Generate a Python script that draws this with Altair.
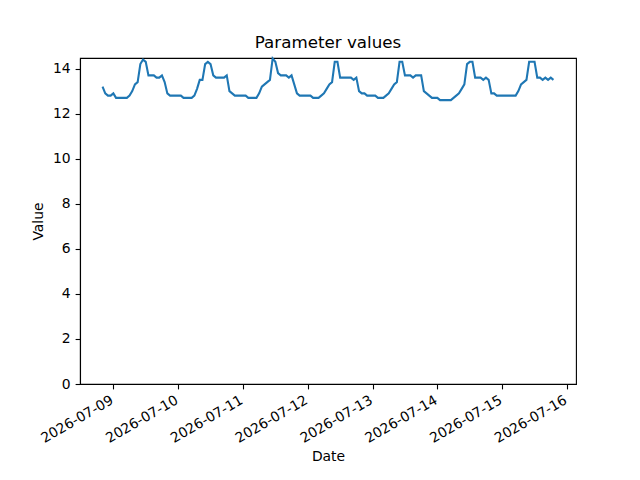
import altair as alt
import pandas as pd

# hourly readings, starting 2026-07-08 20:00
start = "2026-07-08 20:00"
day0 = [13.2, 12.9, 12.8, 12.8]  # 07-08 20:00-23:00
d09 = [12.9, 12.7, 12.7, 12.7, 12.7, 12.7, 12.8, 13.0, 13.3, 13.4, 14.2, 14.4,
       14.3, 13.7, 13.7, 13.7, 13.6, 13.6, 13.7, 13.4, 12.9, 12.8, 12.8, 12.8]
d10 = [12.8, 12.8, 12.7, 12.7, 12.7, 12.7, 12.8, 13.1, 13.5, 13.5, 14.2, 14.3,
       14.2, 13.7, 13.6, 13.6, 13.6, 13.6, 13.7, 13.0, 12.9, 12.8, 12.8, 12.8]
d11 = [12.8, 12.8, 12.7, 12.7, 12.7, 12.7, 12.9, 13.2, 13.3, 13.4, 13.5, 14.45,
       14.3, 13.8, 13.7, 13.7, 13.7, 13.6, 13.7, 13.3, 12.9, 12.8, 12.8, 12.8]
d12 = [12.8, 12.8, 12.7, 12.7, 12.7, 12.8, 12.9, 13.1, 13.3, 13.4, 14.3, 14.3,
       13.6, 13.6, 13.6, 13.6, 13.6, 13.5, 13.6, 13.0, 12.9, 12.9, 12.8, 12.8]
d13 = [12.8, 12.8, 12.7, 12.7, 12.7, 12.8, 12.9, 13.1, 13.3, 13.4, 14.3, 14.3,
       13.7, 13.7, 13.7, 13.6, 13.7, 13.7, 13.7, 13.0, 12.9, 12.8, 12.7, 12.7]
d14 = [12.7, 12.6, 12.6, 12.6, 12.6, 12.6, 12.7, 12.8, 12.9, 13.1, 13.3, 14.2,
       14.3, 14.3, 13.6, 13.6, 13.6, 13.5, 13.6, 13.5, 12.9, 12.9, 12.8, 12.8]
d15 = [12.8, 12.8, 12.8, 12.8, 12.8, 12.8, 13.0, 13.3, 13.4, 13.5, 14.3, 14.3,
       14.3, 13.6, 13.6, 13.5, 13.6, 13.5, 13.6, 13.5]

values = day0 + d09 + d10 + d11 + d12 + d13 + d14 + d15
times = pd.date_range(start, periods=len(values), freq="h")
df = pd.DataFrame({"Date": times.strftime("%Y-%m-%dT%H:%M:%S"), "Value": values})

tick_days = [9, 10, 11, 12, 13, 14, 15, 16]

chart = alt.Chart(df).mark_line(color="#1f77b4", strokeWidth=2.08).encode(
    x=alt.X("Date:T",
            scale=alt.Scale(domain=[alt.DateTime(year=2026, month=7, date=8, hours=11, minutes=39),
                                    alt.DateTime(year=2026, month=7, date=16, hours=3, minutes=21)],
                            nice=False),
            axis=alt.Axis(title="Date", format="%Y-%m-%d",
                          values=[alt.DateTime(year=2026, month=7, date=d) for d in tick_days],
                          labelAngle=-30, labelAlign="right", labelBaseline="top",
                          labelOffset=-5, labelPadding=4, titlePadding=4)),
    y=alt.Y("Value:Q",
            scale=alt.Scale(domain=[0, 14.47], nice=False, zero=True),
            axis=alt.Axis(title="Value", values=[0, 2, 4, 6, 8, 10, 12, 14],
                          labelPadding=4.9, titlePadding=7)),
).properties(
    width=496, height=326,
    title=alt.Title("Parameter values", fontSize=16.7, fontWeight="normal",
                    font="DejaVu Sans", color="black", offset=3),
    autosize=alt.AutoSizeParams(type="none"),
    padding={"left": 72, "top": 50, "right": 56, "bottom": 88},
).configure_view(
    stroke="black", strokeWidth=1.1
).configure_axis(
    grid=False, domainColor="black", domainWidth=1.1, tickColor="black",
    tickWidth=1.1, tickSize=4.9, labelFont="DejaVu Sans", labelFontSize=13.9,
    labelColor="black", titleFont="DejaVu Sans", titleFontSize=13.9,
    titleFontWeight="normal", titleColor="black", labelFlush=False, labelOverlap=False
)

chart.save("out.html", embed_options={"renderer": "svg", "actions": False})
